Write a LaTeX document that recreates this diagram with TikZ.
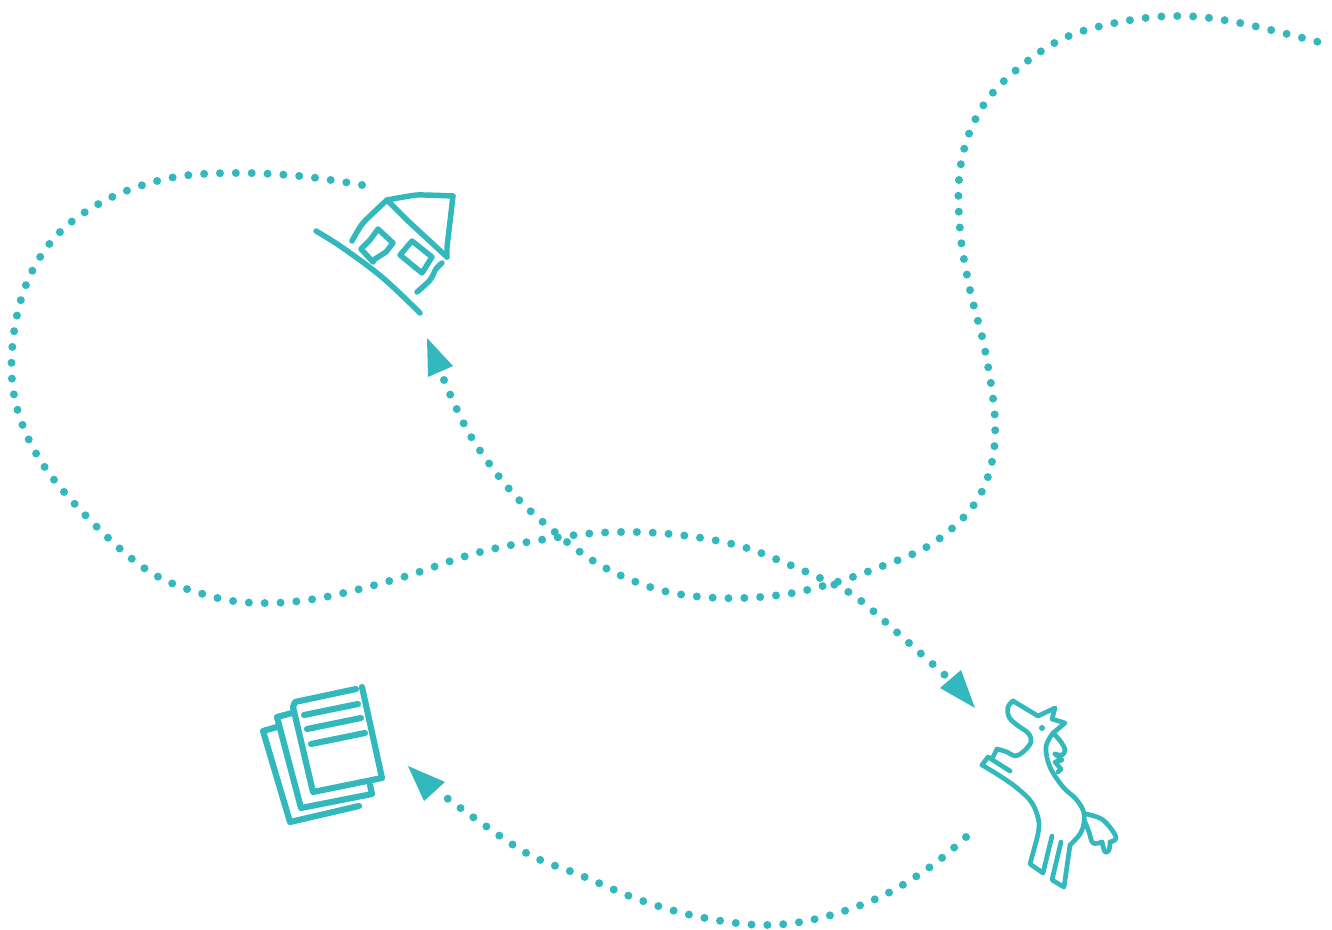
\documentclass[tikz,border=0pt]{standalone}
\definecolor{teal1}{HTML}{33B8BD}
\tikzset{
  trail/.style={draw=teal1,line width=6pt,line cap=round,dash pattern=on 0pt off 11.9pt},
  tip/.style={fill=teal1,draw=none},
  house/.style={draw=teal1,line width=4.1pt,line cap=round,line join=round},
  horse/.style={draw=teal1,line width=3.5pt,line cap=round,line join=round},
  docs/.style={draw=teal1,line width=4.6pt,line cap=round,line join=round}
}
\begin{document}
\begin{tikzpicture}[x=0.75pt,y=-0.75pt]
\useasboundingbox (0,0) rectangle (1332,930);
% dotted trails
\draw[trail] plot[smooth,tension=0.6] coordinates {(362,185)(300,176)(232,173)(170,178)(110,198)(60,232)(28,280)(13,340)(15,400)(40,460)(90,520)(150,572)(210,596)(260,603)(320,598)(400,578)(480,552)(560,537)(620,532)(680,535)(740,546)(790,565)(835,585)(860,600)(900,635)(947,677)};
\draw[trail] plot[smooth,tension=0.6] coordinates {(444,380)(470,435)(510,490)(550,528)(600,565)(660,590)(720,598)(780,595)(830,584)(880,567)(930,545)(970,510)(990,470)(995,420)(985,350)(970,290)(960,230)(960,170)(975,120)(1005,80)(1060,40)(1120,22)(1180,16)(1240,23)(1330,45)};
\draw[trail] plot[smooth,tension=0.6] coordinates {(966,837)(930,867)(880,897)(820,918)(763,925)(700,917)(640,900)(580,875)(530,855)(480,822)(436,790)};
% arrow heads
\fill[tip] (427,338) -- (453,366) -- (428,377) -- cycle;
\fill[tip] (961,670) -- (975,708) -- (940,688) -- cycle;
\fill[tip] (408,766) -- (445,782) -- (424,801) -- cycle;
% house
\draw[house] plot[smooth,tension=0.4] coordinates {(352,241)(363,223)(387,200)};
\draw[house] plot[smooth,tension=0.3] coordinates {(387,200)(407,220)(447,257)};
\draw[house] plot[smooth,tension=0.3] coordinates {(387,200)(417,195)(453,196)};
\draw[house] (453,196) -- (447,247) -- (447,257);
\draw[house] plot[smooth,tension=0.6] coordinates {(316,231)(343,248)(383,278)(420,313)};
\draw[house] (378,229) -- (393,243) -- (386,252) -- (375,259) -- (373,262) -- (361,249) -- (370,240) -- cycle;
\draw[house] (412,241) -- (432,257) -- (422,273) -- (400,255) -- cycle;
\draw[house] plot[smooth,tension=0.6] coordinates {(417,292)(430,280)(436,269)(442,263)};
% horse
\draw[horse] plot[smooth,tension=0.6] coordinates {(997,749)(1007,752)(1015,756)(1023,752)(1031,742)(1028,733)(1017,725)(1009,717)(1008,707)(1013,701)};
\draw[horse] (993,757) -- (997,749);
\draw[horse] (1013,701) -- (1038,716) -- (1055,708) -- (1052,719) -- (1065,723) -- (1053,733);
\draw[horse] plot[smooth,tension=0.6] coordinates {(1053,733)(1046,747)(1050,767)(1063,787)(1075,798)(1083,810)(1084,822)(1080,834)(1070,845)};
\draw[horse] (1070,845) -- (1064,887) -- (1052,880) -- (1061,842);
\draw[horse] (1052,836) -- (1043,873) -- (1030,864) -- (1036,842);
\draw[horse] plot[smooth,tension=0.6] coordinates {(1036,842)(1039,823)(1032,803)(1017,788)(1000,776)(982,765)};
\draw[horse] (982,765) -- (988,757) -- (1010,771);
\draw[horse] plot[smooth,tension=0.6] coordinates {(1055,735)(1061,742)(1065,750)(1062,755)(1055,754)};
\draw[horse] (1055,754) -- (1062,760) -- (1055,762) -- (1061,769) -- (1058,772);
\draw[horse] plot[smooth,tension=0.6] coordinates {(1086,814)(1103,820)(1116,837)(1110,842)};
\draw[horse] plot[smooth,tension=0.6] coordinates {(1110,842)(1109,850)(1105,852)(1102,842)};
\draw[horse] plot[smooth,tension=0.6] coordinates {(1102,842)(1093,843)(1089,832)(1085,822)};
\fill[teal1] (1042,728) circle[radius=3];
% documents
\draw[docs] (356,689) -- (295,702) -- (293,707) -- (313,792) -- (382,778) -- (362,687);
\draw[docs] (304,715) -- (358,704);
\draw[docs] (307,729) -- (361,718);
\draw[docs] (311,744) -- (365,733);
\draw[docs] (292,713) -- (277,717) -- (301,808) -- (372,794) -- (370,785);
\draw[docs] (277,727) -- (263,731) -- (290,822) -- (359,806);
\end{tikzpicture}
\end{document}
